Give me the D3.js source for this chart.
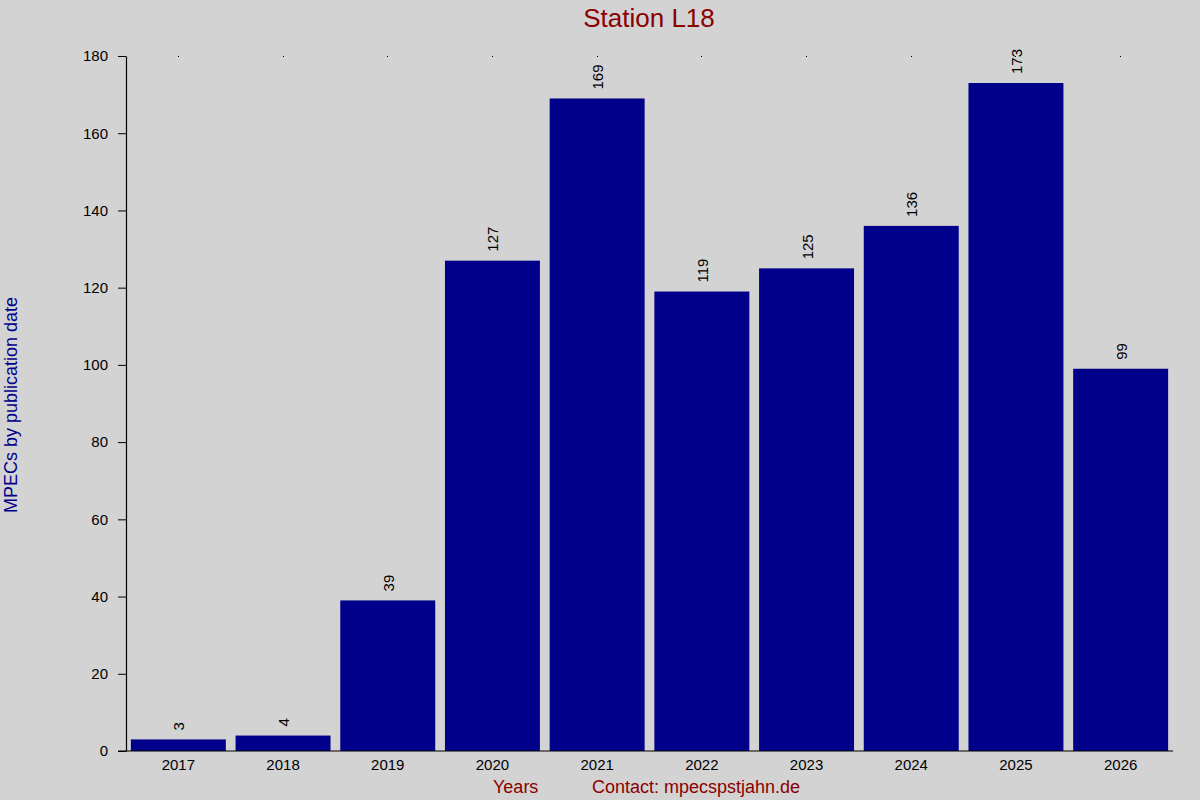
<!DOCTYPE html>
<html>
<head>
<meta charset="utf-8">
<script src="https://cdn.jsdelivr.net/npm/d3@7"></script>
<style>
  html, body { margin: 0; padding: 0; background: #d3d3d3; }
  svg { display: block; }
  text { font-family: "Liberation Sans", Arial, Helvetica, sans-serif; }
</style>
</head>
<body>
<script>
const years = ["2017","2018","2019","2020","2021","2022","2023","2024","2025","2026"];
const counts = [3, 4, 39, 127, 169, 119, 125, 136, 173, 99];
const yTicks = [0, 20, 40, 60, 80, 100, 120, 140, 160, 180];
const titleText = "Station L18";
const yLabelText = "MPECs by publication date";
const xLabelText = "Years";
const contactText = "Contact: mpecspstjahn.de";

const W = 1200, H = 800;
const mLeft = 126, mRight = 1173, mTop = 56, mBottom = 751;

const svg = d3.select("body").append("svg")
  .attr("width", W).attr("height", H);

svg.append("rect").attr("width", W).attr("height", H).attr("fill", "#d3d3d3");

const x = d3.scaleBand().domain(years).range([mLeft, mRight])
  .paddingInner(0.093).paddingOuter(0.0465);
const y = d3.scaleLinear().domain([0, 180]).range([mBottom, mTop]);

// bars
svg.append("g").selectAll("rect").data(years).join("rect")
  .attr("x", d => x(d))
  .attr("width", x.bandwidth())
  .attr("y", (d, i) => y(counts[i]))
  .attr("height", (d, i) => y(0) - y(counts[i]))
  .attr("fill", "#00008b");

// value labels
svg.append("g").selectAll("text").data(years).join("text")
  .attr("transform", (d, i) => `translate(${x(d) + x.bandwidth() / 2 + 6},${y(counts[i]) - 9}) rotate(-90)`)
  .attr("text-anchor", "start")
  .attr("font-size", 15)
  .attr("fill", "#000")
  .text((d, i) => counts[i]);

// top dots
svg.append("g").attr("shape-rendering", "crispEdges").selectAll("rect").data(years).join("rect")
  .attr("x", d => Math.floor(x(d) + x.bandwidth() / 2))
  .attr("y", mTop)
  .attr("width", 1).attr("height", 1)
  .attr("fill", "#000");

// y axis
const yAxis = d3.axisLeft(y).tickValues(yTicks).tickSize(8).tickPadding(10).tickSizeOuter(0);
const gy = svg.append("g").attr("transform", `translate(${mLeft},0)`).call(yAxis);
gy.select(".domain").attr("stroke", "#000").attr("stroke-width", 1.2);
gy.selectAll(".tick line").attr("stroke", "#000");
gy.selectAll(".tick text").attr("font-size", 15).attr("fill", "#000")
  .attr("font-family", "'Liberation Sans', Arial, sans-serif");

// x axis
const xAxis = d3.axisBottom(x).tickSize(0).tickPadding(8).tickSizeOuter(0);
const gx = svg.append("g").attr("transform", `translate(0,${mBottom})`).call(xAxis);
gx.select(".domain").attr("d", `M${mLeft - 8},0H${mRight}`).attr("stroke", "#000").attr("stroke-width", 1.2);
gx.selectAll(".tick text").attr("font-size", 15).attr("fill", "#000")
  .attr("font-family", "'Liberation Sans', Arial, sans-serif");

// title
svg.append("text").attr("x", 649).attr("y", 27)
  .attr("text-anchor", "middle").attr("font-size", 26).attr("fill", "#8b0000")
  .text(titleText);

// y label
svg.append("text").attr("transform", "translate(17,405) rotate(-90)")
  .attr("text-anchor", "middle").attr("font-size", 18).attr("fill", "#00008b")
  .text(yLabelText);

// x label & contact
svg.append("text").attr("x", 493).attr("y", 793)
  .attr("font-size", 18).attr("fill", "#8b0000").text(xLabelText);
svg.append("text").attr("x", 592).attr("y", 793)
  .attr("font-size", 18).attr("fill", "#8b0000").text(contactText);
</script>
</body>
</html>
